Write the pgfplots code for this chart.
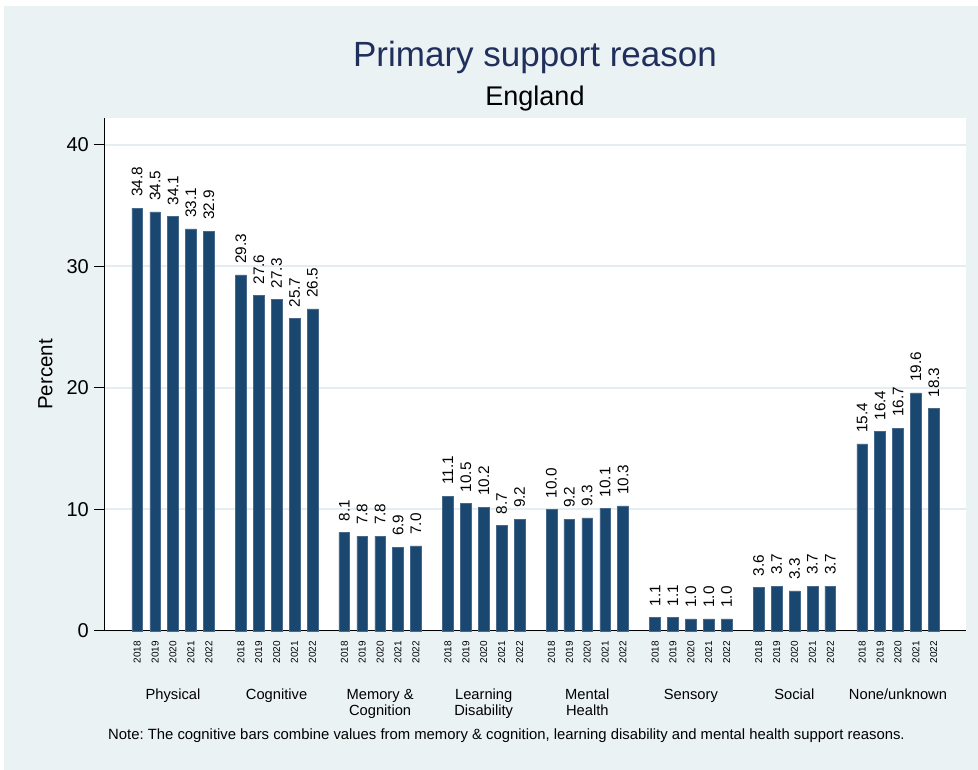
\documentclass[border=0pt]{standalone}
\usepackage{fontspec}
\setmainfont{Liberation Sans}
\usepackage{pgfplots}
\usepackage{pgfplotstable}
\pgfplotsset{compat=1.18}
\definecolor{bgc}{RGB}{234,242,243}
\definecolor{gridc}{RGB}{228,238,240}
\definecolor{barc}{RGB}{26,71,111}
\definecolor{barl}{RGB}{70,105,140}
\definecolor{titlec}{RGB}{33,47,92}

\pgfplotstableread{
x y
0 34.8
1 34.5
2 34.1
3 33.1
4 32.9
5.79 29.3
6.79 27.6
7.79 27.3
8.79 25.7
9.79 26.5
11.57 8.1
12.57 7.8
13.57 7.8
14.57 6.9
15.57 7.0
17.36 11.1
18.36 10.5
19.36 10.2
20.36 8.7
21.36 9.2
23.14 10.0
24.14 9.2
25.14 9.3
26.14 10.1
27.14 10.3
28.93 1.1
29.93 1.1
30.93 1.0
31.93 1.0
32.93 1.0
34.72 3.6
35.72 3.7
36.72 3.3
37.72 3.7
38.72 3.7
40.50 15.4
41.50 16.4
42.50 16.7
43.50 19.6
44.50 18.3
}\datatable

\begin{document}
\frenchspacing
\begin{tikzpicture}[x=1pt,y=1pt]
\path[use as bounding box] (0pt,0pt) rectangle (978pt,770pt);
\fill[white] (0pt,0pt) rectangle (978pt,770pt);
\fill[bgc] (4pt,0pt) rectangle (978pt,764pt);
\begin{axis}[
  at={(104pt,139pt)}, anchor=south west,
  scale only axis, width=862pt, height=513pt,
  xmin=-1.855, xmax=46.30, ymin=0, ymax=42.22,
  clip=false,
  axis background/.style={fill=white},
  axis lines*=left,
  axis line style={-, black, line width=1pt},
  ybar, bar width=10.7pt,
  ytick={0,10,20,30,40},
  ytick align=outside, xtick align=inside,
  major tick length=10pt,
  ytick style={black, line width=1pt},
  xtick style={draw=none},
  ymajorgrids,
  grid style={gridc, line width=2pt},
  /pgf/number format/assume math mode=true,
  yticklabel style={font=\fontsize{20}{24}\selectfont, inner xsep=5pt},
  xtick=data,
  xticklabels={2018,2019,2020,2021,2022,2018,2019,2020,2021,2022,2018,2019,2020,2021,2022,2018,2019,2020,2021,2022,2018,2019,2020,2021,2022,2018,2019,2020,2021,2022,2018,2019,2020,2021,2022,2018,2019,2020,2021,2022},
  xticklabel style={rotate=90, anchor=east, inner sep=0pt, font=\fontsize{10}{12}\selectfont},
  xticklabel shift=10pt,
  point meta=y,
  nodes near coords={\pgfmathprintnumber[fixed,fixed zerofill,precision=1]{\pgfplotspointmeta}},
  nodes near coords style={rotate=90, anchor=west, font=\fontsize{15.3}{18}\selectfont, inner xsep=11pt, inner ysep=0pt, black},
]
\addplot[ybar, fill=barc, draw=barl, line width=0.5pt] table[x=x,y=y]{\datatable};
\end{axis}
\node[anchor=base, inner sep=0, text=titlec] at (535pt,703.3pt) {\fontsize{35}{42}\selectfont Primary support reason};
\node[anchor=base, inner sep=0] at (535pt,664pt) {\fontsize{27}{32}\selectfont England};
\node[rotate=90, inner sep=0] at (45.5pt,395.5pt) {\fontsize{20.5}{24}\selectfont Percent};
\begin{scope}[every node/.style={anchor=base, inner sep=0, font=\fontsize{14.7}{17}\selectfont}]
\node at (173.0pt,70pt) {Physical};
\node at (276.6pt,70pt) {Cognitive};
\node at (380.1pt,70pt) {Memory \&};
\node at (380.1pt,54.3pt) {Cognition};
\node at (483.7pt,70pt) {Learning};
\node at (483.7pt,54.3pt) {Disability};
\node at (587.3pt,70pt) {Mental};
\node at (587.3pt,54.3pt) {Health};
\node at (690.9pt,70pt) {Sensory};
\node at (794.4pt,70pt) {Social};
\node at (898.0pt,70pt) {None/unknown};
\end{scope}
\node[anchor=base west, inner sep=0] at (108pt,30pt) {\fontsize{14.85}{17}\selectfont Note: The cognitive bars combine values from memory \& cognition, learning disability and mental health support reasons.};
\end{tikzpicture}
\end{document}
